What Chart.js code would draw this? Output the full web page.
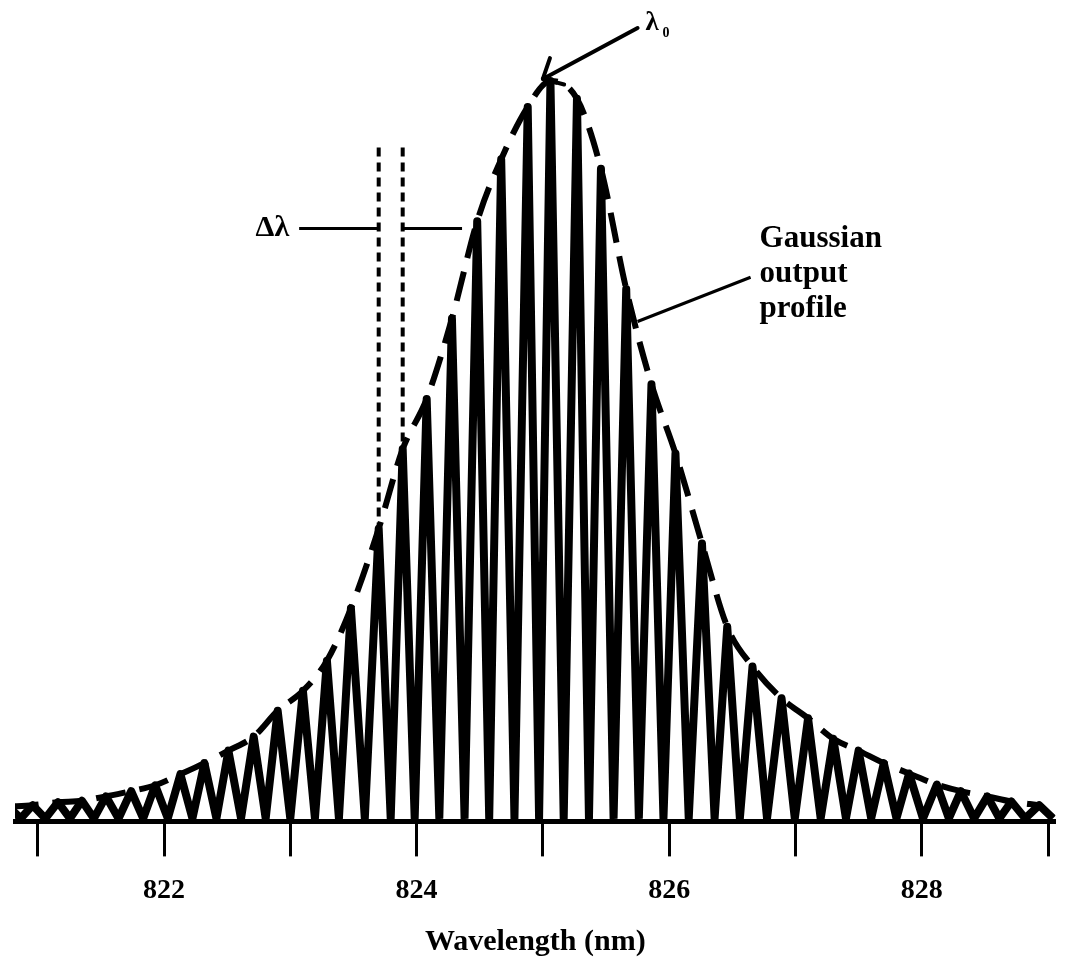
<!DOCTYPE html>
<html>
<head>
<meta charset="utf-8">
<title>Gaussian output profile</title>
<script src="https://cdn.jsdelivr.net/npm/chart.js@4.4.1/dist/chart.umd.min.js"></script>
<style>
  html, body { margin: 0; padding: 0; background: #fff; }
  canvas { display: block; }
</style>
</head>
<body>
<canvas id="chart" width="1066" height="961"></canvas>
<script>
// -----------------------------
// Data
// -----------------------------
// longitudinal mode positions (nm), left to right
const modeWavelengths = [
  820.77, 820.96, 821.16, 821.35, 821.54, 821.74, 821.93, 822.13, 822.32, 822.51,
  822.71, 822.90, 823.10, 823.29, 823.48, 823.70, 823.89, 824.08, 824.28, 824.48,
  824.67, 824.88, 825.06, 825.27, 825.46, 825.66, 825.86, 826.05, 826.26, 826.46,
  826.66, 826.89, 827.10, 827.30, 827.50, 827.70, 827.90, 828.12, 828.31, 828.52,
  828.71, 828.93
];
// relative peak height of each mode (tallest = 100)
const modeHeights = [
  1.6, 1.8, 2.2, 2.4, 3.0, 3.7, 4.5, 6.0, 7.5, 9.2,
  11.1, 14.6, 17.3, 21.4, 28.5, 39.3, 50.1, 56.9, 67.8, 81.0,
  89.4, 96.5, 100, 97.6, 88.1, 71.8, 58.9, 49.5, 37.3, 26.0,
  20.6, 16.3, 13.6, 10.8, 9.2, 7.5, 6.1, 4.6, 3.7, 3.0,
  2.3, 1.8
];
const valleyLevel = 0;             // trace drops back to baseline between modes
const tickValues = [822, 824, 826, 828];
const xTitle = "Wavelength (nm)";

// annotation anchors (data units: nm, relative height)
const lambda0Tip = [825.0, 100.3];
const lambda0Tail = [825.75, 107.2];
const deltaModes = [15, 16];       // the two modes marked with Δλ
const deltaTop = 91;
const deltaLevel = 80;
const deltaReach = [823.07, 824.36];
const profileTip = [825.75, 67.4];
const profileTail = [826.645, 73.4];
const profileLines = ["Gaussian", "output", "profile"];

// -----------------------------
// Build the mode trace: valley - peak - valley ...
// -----------------------------
const trace = [];
modeWavelengths.forEach((w, i) => {
  const prev = i > 0 ? modeWavelengths[i - 1] : w - (modeWavelengths[1] - modeWavelengths[0]);
  trace.push({ x: (prev + w) / 2, y: valleyLevel });
  trace.push({ x: w, y: modeHeights[i] });
});
const lastW = modeWavelengths[modeWavelengths.length - 1];
const lastGap = lastW - modeWavelengths[modeWavelengths.length - 2];
trace.push({ x: lastW + lastGap / 2, y: valleyLevel });

const envelope = modeWavelengths.map((w, i) => ({ x: w, y: modeHeights[i] }));

const FONT = "'Liberation Serif', 'DejaVu Serif', serif";

// -----------------------------
// Labels and pointers
// -----------------------------
function line(ctx, x1, y1, x2, y2) {
  ctx.beginPath();
  ctx.moveTo(x1, y1);
  ctx.lineTo(x2, y2);
  ctx.stroke();
}

const annotations = {
  id: "annotations",
  afterDraw(chart) {
    const ctx = chart.ctx;
    const xs = chart.scales.x, ys = chart.scales.y;
    const px = v => xs.getPixelForValue(v);
    const py = v => ys.getPixelForValue(v);

    ctx.save();
    ctx.strokeStyle = "#000";
    ctx.fillStyle = "#000";
    ctx.lineCap = "round";

    // lambda_0 pointer
    const tx = px(lambda0Tip[0]), ty = py(lambda0Tip[1]);
    const sx = px(lambda0Tail[0]), sy = py(lambda0Tail[1]);
    ctx.lineWidth = 4;
    line(ctx, sx, sy, tx, ty);
    const ang = Math.atan2(sy - ty, sx - tx);
    [-0.75, 0.75].forEach(d => {
      line(ctx, tx, ty, tx + 22 * Math.cos(ang + d), ty + 22 * Math.sin(ang + d));
    });
    ctx.font = "bold 27px " + FONT;
    ctx.textBaseline = "alphabetic";
    ctx.textAlign = "left";
    ctx.fillText("λ", sx + 8, sy + 2);
    ctx.font = "bold 14px " + FONT;
    ctx.fillText("0", sx + 25, sy + 9);

    // delta lambda markers
    ctx.lineCap = "butt";
    ctx.lineWidth = 4;
    ctx.setLineDash([9, 6]);
    deltaModes.forEach(i => {
      const x = px(modeWavelengths[i]);
      line(ctx, x, py(deltaTop), x, py(modeHeights[i]));
    });
    ctx.setLineDash([]);
    ctx.lineWidth = 3;
    const ay = py(deltaLevel);
    line(ctx, px(deltaReach[0]), ay, px(modeWavelengths[deltaModes[0]]), ay);
    line(ctx, px(modeWavelengths[deltaModes[1]]), ay, px(deltaReach[1]), ay);
    ctx.font = "bold 30px " + FONT;
    ctx.textAlign = "right";
    ctx.textBaseline = "middle";
    ctx.fillText("Δλ", px(deltaReach[0]) - 10, ay);

    // Gaussian output profile pointer
    ctx.lineWidth = 3;
    const gx = px(profileTail[0]), gy = py(profileTail[1]);
    line(ctx, gx, gy, px(profileTip[0]), py(profileTip[1]));
    ctx.font = "bold 31px " + FONT;
    ctx.textAlign = "left";
    ctx.textBaseline = "alphabetic";
    profileLines.forEach((t, i) => {
      ctx.fillText(t, gx + 9, gy - 30 + i * 35);
    });

    ctx.restore();
  }
};

// -----------------------------
// Chart
// -----------------------------
const ctx = document.getElementById("chart").getContext("2d");
new Chart(ctx, {
  type: "line",
  data: {
    datasets: [
      {
        label: "Modes",
        data: trace,
        borderColor: "#000",
        borderWidth: 8,
        borderJoinStyle: "round",
        pointRadius: 0,
        tension: 0,
        fill: false
      },
      {
        label: "Gaussian output profile",
        data: envelope,
        borderColor: "#000",
        borderWidth: 6,
        borderDash: [30, 14],
        cubicInterpolationMode: "monotone",
        pointRadius: 0,
        fill: false
      }
    ]
  },
  options: {
    responsive: false,
    animation: false,
    devicePixelRatio: 1,
    layout: { padding: { left: 15, right: 0, top: 0, bottom: 0 } },
    plugins: {
      legend: { display: false },
      tooltip: { enabled: false }
    },
    scales: {
      x: {
        type: "linear",
        min: 820.82,
        max: 829.06,
        ticks: {
          stepSize: 1,
          includeBounds: false,
          autoSkip: false,
          maxRotation: 0,
          color: "#000",
          padding: 18,
          font: { family: FONT, weight: "bold", size: 28 },
          callback: v => tickValues.includes(v) ? String(v) : ""
        },
        grid: {
          drawOnChartArea: false,
          drawTicks: true,
          tickLength: 35,
          tickWidth: 3,
          tickColor: "#000"
        },
        border: { display: true, color: "#000", width: 5 },
        title: {
          display: true,
          text: xTitle,
          color: "#000",
          font: { family: FONT, weight: "bold", size: 30, lineHeight: 1.1 },
          padding: { top: 0, bottom: 2 }
        }
      },
      y: {
        display: false,
        min: -0.4,
        max: 111
      }
    }
  },
  plugins: [annotations]
});
</script>
</body>
</html>
